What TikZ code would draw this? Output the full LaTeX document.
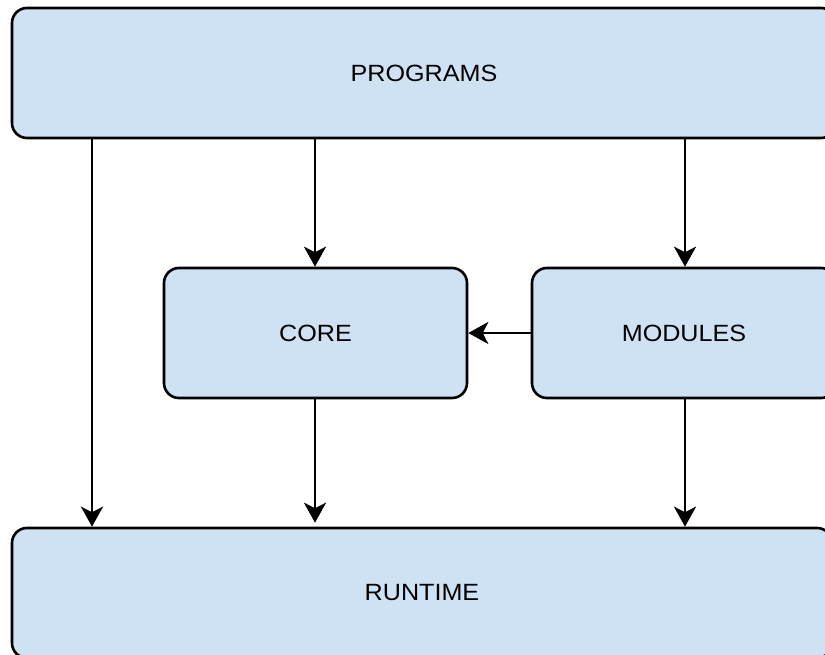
\documentclass[tikz,border=0pt]{standalone}
\usepackage{fontspec}
\setmainfont{Liberation Sans}
\usetikzlibrary{arrows.meta}
\definecolor{boxfill}{HTML}{CFE2F3}
\tikzset{
  block/.style={draw=black, fill=boxfill, line width=2.6pt, rounded corners=15pt,
    inner sep=0pt, font=\fontsize{23.5}{28}\selectfont},
  link/.style={line width=2.6pt, -{Stealth[length=20pt, width=22pt, inset=5.5pt]}}
}
\newcommand{\lbl}[1]{\scalebox{1.07}[1]{#1}}
\begin{document}
\begin{tikzpicture}[x=1pt, y=-1pt]
  \useasboundingbox (0,0) rectangle (825,655);
  \clip (0,0) rectangle (825,655);
  % layers
  \node[block, minimum width=824pt, minimum height=130pt] (prog) at (424,73) {\lbl{PROGRAMS}};
  \node[block, minimum width=303pt, minimum height=130pt] (core) at (315.5,333) {\lbl{CORE}};
  \node[block, minimum width=304pt, minimum height=130pt] (mods) at (684,333) {\lbl{MODULES}};
  \node[block, minimum width=820pt, minimum height=130pt] (run) at (422,593) {\lbl{RUNTIME}};
  % dependencies
  \draw[link] (prog.south -| 92,0) -- (run.north -| 92,0);
  \draw[link] (prog.south -| 315,0) -- (core.north -| 315,0);
  \draw[link] (prog.south -| 685,0) -- (mods.north -| 685,0);
  \draw[link] (mods.west) -- (core.east);
  \draw[link, shorten >=4pt] (core.south -| 315,0) -- (run.north -| 315,0);
  \draw[link] (mods.south -| 685,0) -- (run.north -| 685,0);
\end{tikzpicture}
\end{document}
